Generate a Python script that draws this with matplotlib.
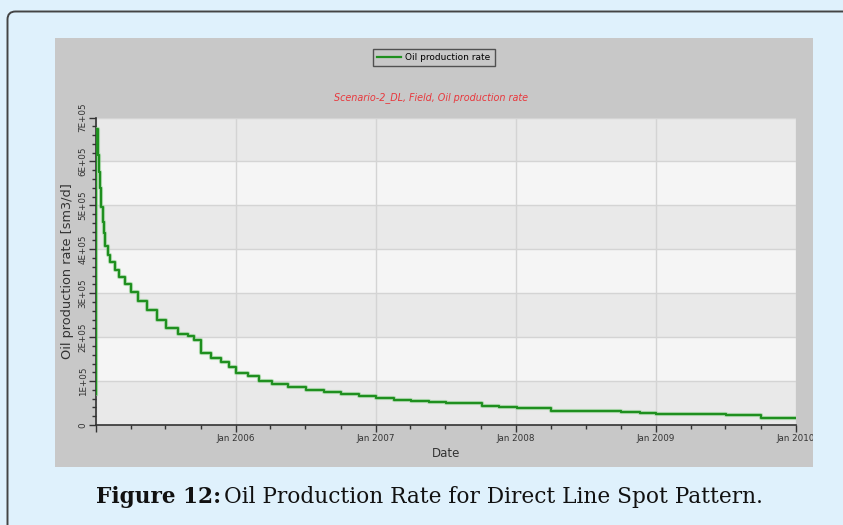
import numpy as np
import pandas as pd
import matplotlib
matplotlib.use("Agg")
from matplotlib import pyplot as plt
import matplotlib.dates as mdates
from matplotlib.patches import Rectangle, PathPatch
from matplotlib.path import Path
from matplotlib.ticker import MultipleLocator, FuncFormatter

# Step changes of the field oil production rate (sm3/d)
step_dates = ["2005-01-01", "2005-01-02", "2005-01-05", "2005-01-09", "2005-01-11",
              "2005-01-15", "2005-01-18", "2005-01-22", "2005-01-24", "2005-01-31",
              "2005-02-06", "2005-02-19", "2005-03-02", "2005-03-17", "2005-04-03",
              "2005-04-21", "2005-05-15", "2005-06-08", "2005-07-02", "2005-08-03",
              "2005-08-29", "2005-09-14", "2005-10-01", "2005-10-28", "2005-11-23",
              "2005-12-14", "2006-01-01", "2006-02-02", "2006-03-03", "2006-04-04",
              "2006-05-17", "2006-07-03", "2006-08-18", "2006-10-03", "2006-11-17",
              "2007-01-01", "2007-02-18", "2007-04-02", "2007-05-20", "2007-07-03",
              "2007-08-19", "2007-10-04", "2007-11-19", "2008-01-03", "2008-04-02",
              "2008-07-02", "2008-10-02", "2008-11-20", "2009-01-02", "2009-04-03",
              "2009-07-03", "2009-10-02", "2010-01-01"]
oil_rate = [70000, 673000, 615000, 577000, 539000,
            497000, 463000, 437000, 408000, 387000,
            371000, 352000, 336000, 321000, 303000,
            282000, 262000, 239000, 221000, 208000,
            203000, 194000, 163000, 152000, 143000,
            132000, 119000, 111000, 101000, 93000,
            86000, 80000, 74500, 70000, 66000,
            61500, 58000, 54000, 52500, 51000,
            49500, 42500, 40000, 38000, 32500,
            31000, 29000, 27500, 26000, 24500,
            23000, 17000, 17000]

df = pd.DataFrame({"date": pd.to_datetime(step_dates), "rate": oil_rate})

W, H = 843, 525
fig = plt.figure(figsize=(W / 100, H / 100), dpi=100)
fig.patch.set_facecolor("#dff1fc")

# outer frame: left and top edge with a rounded top-left corner (pixel coords)
r = 8
verts = [(7.5, H + 5), (7.5, 11.5 + r), (7.5, 11.5), (7.5 + r, 11.5), (W + 5, 11.5)]
codes = [Path.MOVETO, Path.LINETO, Path.CURVE3, Path.CURVE3, Path.LINETO]
verts = [(x / W, 1 - y / H) for x, y in verts]
frame = PathPatch(Path(verts, codes), transform=fig.transFigure, facecolor="none",
                  edgecolor="#444444", lw=1.4, zorder=-2)
fig.patches.append(frame)

# grey chart panel
panel = Rectangle((55 / W, 1 - 467 / H), (813 - 55) / W, (467 - 38) / H,
                  transform=fig.transFigure, facecolor="#c8c8c8", edgecolor="none", zorder=-1)
fig.patches.append(panel)

ax = fig.add_axes([96 / W, 1 - 425 / H, (796 - 96) / W, (425 - 117.5) / H])
ax.set_facecolor("#f5f5f5")

# alternating horizontal bands
for k in range(7):
    if k % 2 == 0:
        ax.axhspan(k * 1e5, (k + 1) * 1e5, color="#e9e9e9", lw=0, zorder=0)

ax.plot(df["date"], df["rate"], drawstyle="steps-post", color="#8fd08f", lw=3.0,
        alpha=0.6, zorder=3)
line, = ax.plot(df["date"], df["rate"], drawstyle="steps-post", color="#1f8f1f", lw=1.6,
                zorder=4, label="Oil production rate")

ax.set_xlim(pd.Timestamp("2005-01-01"), pd.Timestamp("2010-01-01"))
ax.set_ylim(0, 7e5)

ax.xaxis.set_major_locator(mdates.YearLocator(1))
ax.xaxis.set_major_formatter(FuncFormatter(
    lambda v, p: "" if mdates.num2date(v).year == 2005 else mdates.num2date(v).strftime("Jan %Y")))
ax.xaxis.set_minor_locator(mdates.MonthLocator(bymonth=[4, 7, 10]))
ax.yaxis.set_major_locator(MultipleLocator(1e5))
ax.yaxis.set_minor_locator(MultipleLocator(2e4))
ax.yaxis.set_major_formatter(FuncFormatter(lambda v, p: "0" if v == 0 else f"{v:.0E}"))

ax.grid(True, which="major", color="#d4d4d4", lw=1, zorder=1)
ax.set_axisbelow(True)
for s in ["top", "right"]:
    ax.spines[s].set_visible(False)
for s in ["left", "bottom"]:
    ax.spines[s].set_color("#333333")
    ax.spines[s].set_linewidth(1.2)

ax.tick_params(axis="both", which="major", length=5, width=1, color="#333333",
               labelsize=6.3, labelcolor="#333333")
ax.tick_params(axis="both", which="minor", length=3, width=1, color="#333333")
ax.tick_params(axis="x", pad=1.5)
for lab in ax.get_yticklabels():
    lab.set_rotation(90)
    lab.set_va("center")
ax.tick_params(axis="y", pad=1)

ax.set_ylabel("Oil production rate [sm3/d]", fontsize=9.3, color="#333333", labelpad=3)
ax.set_xlabel("Date", fontsize=8.5, color="#333333", labelpad=3)

ax.text(0.478, 1.065, "Scenario-2_DL, Field, Oil production rate", transform=ax.transAxes,
        ha="center", va="center", fontsize=6.9, style="italic", color="#e8383d")

leg = fig.legend(handles=[line], loc="center", bbox_to_anchor=(434 / W, 1 - 57.5 / H),
                 fontsize=6.5, frameon=True, fancybox=False, handlelength=2.6,
                 borderpad=0.45, handletextpad=0.5)
leg.get_frame().set_facecolor("#c8c8c8")
leg.get_frame().set_edgecolor("#333333")
leg.get_frame().set_linewidth(1)

# caption below the chart panel
cap_y = 1 - 497 / H
t1 = fig.text(96 / W, cap_y, "Figure 12:", fontsize=15.6, fontweight="bold",
              family="DejaVu Serif", va="center", ha="left", color="#111111")
fig.canvas.draw()
bb = t1.get_window_extent(renderer=fig.canvas.get_renderer())
fig.text(bb.x1 / W + 3 / W, cap_y, "Oil Production Rate for Direct Line Spot Pattern.",
         fontsize=15.6, family="DejaVu Serif", va="center", ha="left", color="#111111")

# clip the last date label at the panel edge, as in the source screenshot
for lab in ax.get_xticklabels():
    lab.set_clip_path(panel)

fig.savefig("out.png", dpi=100, facecolor=fig.get_facecolor())
